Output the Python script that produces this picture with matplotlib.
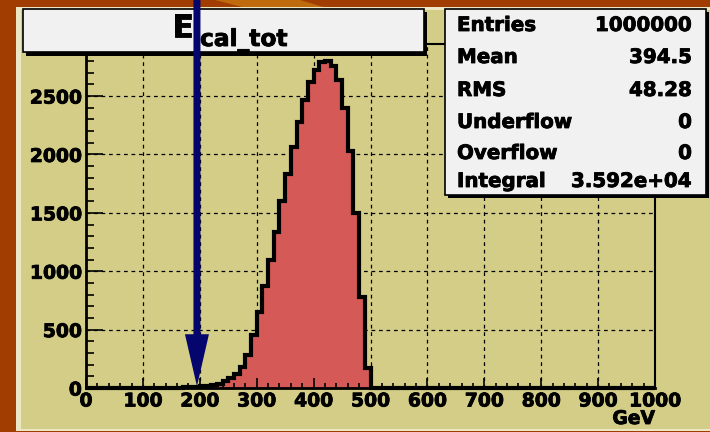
import numpy as np
import matplotlib
matplotlib.use('Agg')
import matplotlib.pyplot as plt
import matplotlib.patheffects as pe
from matplotlib.patches import Rectangle, FancyArrow, Polygon
from matplotlib.transforms import IdentityTransform

# ---------------- data ----------------
bin_edges = np.arange(0, 1010, 10)          # 100 bins of 10 GeV, 0..1000
first_bin_low = 140                          # lower edge of first non-empty bin
counts = [2, 3, 4, 6, 8, 10, 13, 17, 25, 38,
          60, 85, 120, 180, 280, 450,
          650, 870, 1100, 1340, 1600, 1830, 2060, 2280, 2470, 2620,
          2720, 2790, 2800, 2760, 2640, 2400, 2030, 1500, 780, 170]
x_ticks = [0, 100, 200, 300, 400, 500, 600, 700, 800, 900, 1000]
y_ticks = [0, 500, 1000, 1500, 2000, 2500]
stat_labels = ["Entries", "Mean", "RMS", "Underflow", "Overflow", "Integral"]
stat_values = ["1000000", "394.5", "48.28", "0", "0", "3.592e+04"]
title_main = "E"
title_sub = "cal_tot"
x_title = "GeV"
arrow_x = 195

# ---------------- style ----------------
W, H = 710, 432
KHAKI = '#d3cd87'
RED = '#d55a57'
BOXFILL = '#f1f1f1'
ORANGE = '#a23d02'
NAVY = '#05056e'
FONT = 'DejaVu Sans'
HEAVY = [pe.withStroke(linewidth=0.6, foreground='black')]

def fx(px):
    return px / W

def fy(py):
    return 1 - py / H

fig = plt.figure(figsize=(W / 100, H / 100), dpi=100)
fig.patch.set_facecolor(ORANGE)

# light streak in background
fig.add_artist(Polygon([(fx(215), fy(0)), (fx(300), fy(0)), (fx(330), fy(9)), (fx(250), fy(9))],
                       closed=True, transform=fig.transFigure, facecolor='#bf6a0c',
                       edgecolor='none', zorder=-5))

# pad
fig.add_artist(Rectangle((fx(16), fy(431)), fx(710 - 16), (431 - 7) / H,
                         transform=fig.transFigure, facecolor='#ebe7c4', edgecolor='none', zorder=-4))
fig.add_artist(Rectangle((fx(21), fy(429)), fx(710 - 21), (429 - 10) / H,
                         transform=fig.transFigure, facecolor=KHAKI, edgecolor='none', zorder=-3))

# axes
ax = fig.add_axes([fx(86), fy(388), fx(655 - 86), (388 - 43.5) / H])
ax.set_facecolor(KHAKI)
ax.set_xlim(0, 1000)
ax.set_ylim(0, 2950)

full = np.zeros(len(bin_edges) - 1)
i0 = int(np.searchsorted(bin_edges, first_bin_low))
full[i0:i0 + len(counts)] = counts

ax.stairs(full, bin_edges, fill=True, color=RED, zorder=2)
ax.stairs(full, bin_edges, color='black', lw=3.0, zorder=2.2, clip_on=False)

# grid (under histogram)
for xv in x_ticks:
    ax.axvline(xv, color='black', lw=0.9, ls=(0, (3, 3)), zorder=1)
for yv in y_ticks:
    ax.axhline(yv, color='black', lw=0.9, ls=(0, (3, 3)), zorder=1)

ax.set_axisbelow(False)
ax.set_xticks(x_ticks)
ax.set_xticks(np.arange(0, 1001, 20), minor=True)
ax.set_yticks(y_ticks)
ax.set_yticks(np.arange(0, 2951, 100), minor=True)
ax.tick_params(axis='x', which='major', direction='in', length=7, width=1.2,
               bottom=True, top=False, pad=2.5)
ax.tick_params(axis='x', which='minor', direction='in', length=3.6, width=1.2,
               bottom=True, top=False)
ax.tick_params(axis='y', which='major', direction='in', length=12, width=1.2,
               left=True, right=False, pad=3)
ax.tick_params(axis='y', which='minor', direction='in', length=6, width=1.2,
               left=True, right=False)
for lab in ax.get_xticklabels() + ax.get_yticklabels():
    lab.set_fontfamily(FONT)
    lab.set_fontweight('bold')
    lab.set_fontsize(13.5)
    lab.set_path_effects(HEAVY)
for s in ax.spines.values():
    s.set_color('black')
    s.set_linewidth(1.5)
ax.spines['left'].set_linewidth(2)
ax.spines['bottom'].set_linewidth(2)

fig.text(fx(655), fy(424), x_title, ha='right', va='baseline', fontsize=13.5,
         fontweight='bold', family=FONT, path_effects=HEAVY)

# title box
fig.add_artist(Rectangle((fx(26), fy(56)), fx(427 - 26), (56 - 12) / H,
                         transform=fig.transFigure, facecolor='black', edgecolor='none', zorder=5))
fig.add_artist(Rectangle((fx(22.5), fy(52)), fx(424 - 22.5), (52 - 8.5) / H,
                         transform=fig.transFigure, facecolor=BOXFILL, edgecolor='black',
                         lw=1.2, zorder=5.1))
fig.text(fx(172), fy(37), title_main, ha='left', va='baseline', fontsize=22.5,
         fontweight='bold', family=FONT, zorder=6, path_effects=HEAVY)
fig.text(fx(200), fy(46), title_sub, ha='left', va='baseline', fontsize=16.8,
         fontweight='bold', family=FONT, zorder=6, path_effects=HEAVY)

# stats box
fig.add_artist(Rectangle((fx(448), fy(198)), fx(709 - 448), (198 - 12) / H,
                         transform=fig.transFigure, facecolor='black', edgecolor='none', zorder=5))
fig.add_artist(Rectangle((fx(445), fy(195)), fx(706 - 445), (195 - 9) / H,
                         transform=fig.transFigure, facecolor=BOXFILL, edgecolor='black',
                         lw=1.2, zorder=5.1))
baselines = [31, 63, 96, 128, 159, 187]
for lab, val, b in zip(stat_labels, stat_values, baselines):
    fig.text(fx(457), fy(b), lab, ha='left', va='baseline', fontsize=14.3,
             fontweight='bold', family=FONT, zorder=6, path_effects=HEAVY)
    fig.text(fx(692), fy(b), val, ha='right', va='baseline', fontsize=14.3,
             fontweight='bold', family=FONT, zorder=6, path_effects=HEAVY)

# arrow (display coords)
tip = ax.transData.transform((arrow_x, 15))
top_y = H + 5
fig.add_artist(FancyArrow(tip[0], top_y, 0, tip[1] - top_y, width=7, head_width=24,
                          head_length=52, length_includes_head=True,
                          transform=IdentityTransform(), facecolor=NAVY,
                          edgecolor='none', zorder=10))

fig.savefig('out.png', dpi=100, facecolor=fig.get_facecolor())
